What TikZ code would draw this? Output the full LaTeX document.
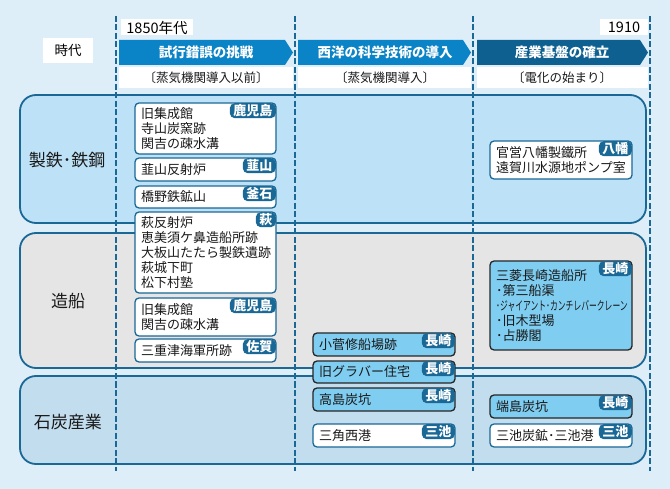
\documentclass[tikz,border=0pt]{standalone}
\usepackage{fontspec}
\setmainfont{Noto Sans CJK JP}
\usepackage{graphicx}

\definecolor{bgblue}{HTML}{DDEEF9}
\definecolor{lineblue}{HTML}{1A6896}
\definecolor{ironblue}{HTML}{BDE1F6}
\definecolor{shipgray}{HTML}{E5E5E5}
\definecolor{coalblue}{HTML}{C2DDEE}
\definecolor{hdrblue}{HTML}{0A84C6}
\definecolor{hdrdark}{HTML}{0D6090}
\definecolor{siteblue}{HTML}{7FCDF1}

\tikzset{
  band/.style={draw=lineblue, line width=1.8pt, rounded corners=16pt},
  eraline/.style={draw=lineblue, line width=2.8pt, dash pattern=on 6pt off 2.5pt},
  wbox/.style={draw=lineblue, fill=white, line width=1.3pt, rounded corners=4pt},
  cbox/.style={draw=black!85, fill=siteblue, line width=1.3pt, rounded corners=4pt},
  tag/.style={fill=lineblue, text=white, font=\bfseries\fontsize{13}{13}\selectfont, rounded corners=5pt, inner xsep=3.5pt, inner ysep=0pt, minimum height=15pt, anchor=north east},
  txt/.style={font=\fontsize{13}{15}\selectfont, align=left, anchor=west, inner sep=0pt, text=black!90},
  hdr/.style={text=white, font=\bfseries\fontsize{13.5}{14}\selectfont},
  captxt/.style={font=\fontsize{12.5}{14}\selectfont, text=black!90},
  lbl/.style={fill=white, font=\fontsize{13.5}{14}\selectfont, inner sep=0pt},
  yrtxt/.style={fill=white, font=\fontsize{14.5}{15}\selectfont, inner sep=0pt},
  rowtxt/.style={font=\fontsize{17}{18}\selectfont, text=black!90}
}

\begin{document}
\begin{tikzpicture}[x=1pt, y=-1pt]

\fill [bgblue] (0,0) rectangle (670,489);

%Row Bands

\draw [band, fill=ironblue] (20,95) rectangle (646,223);
\draw [band, fill=shipgray] (20,233) rectangle (646,368);
\draw [band, fill=coalblue] (20,376) rectangle (646,464);

\node [rowtxt] (iron) at (67,160) {製鉄･鉄鋼};
\node [rowtxt] (ship) at (68,301) {造船};
\node [rowtxt] (coal) at (68,422) {石炭産業};

%Era Lines

\draw [eraline] (116,16) -- (116,471);
\draw [eraline] (295,16) -- (295,471);
\draw [eraline] (473,16) -- (473,471);
\draw [eraline] (650,16) -- (650,471);

%Header Drawing

\node [lbl, minimum width=50pt, minimum height=25pt] (era) at (68,50.5) {時代};
\node [yrtxt, minimum width=72pt, minimum height=16pt] (y1850) at (157,27.5) {1850年代};
\node [yrtxt, minimum width=48pt, minimum height=16pt] (y1910) at (624,27.5) {1910};

\fill [hdrblue] (119,40) -- (285,40) -- (293,52.5) -- (285,65) -- (119,65) -- cycle;
\fill [hdrblue] (298,40) -- (463,40) -- (471,52.5) -- (463,65) -- (298,65) -- cycle;
\fill [hdrdark] (477,40) -- (640,40) -- (648,52.5) -- (640,65) -- (477,65) -- cycle;
\node [hdr] (hdr1) at (206,52.5) {試行錯誤の挑戦};
\node [hdr] (hdr2) at (385,52.5) {西洋の科学技術の導入};
\node [hdr] (hdr3) at (562,52.5) {産業基盤の確立};

\fill [white] (119,67) rectangle (293,88);
\fill [white] (298,67) rectangle (471,88);
\fill [white] (477,67) rectangle (648,88);
\node [captxt] (cap1) at (206,77.5) {〔蒸気機関導入以前〕};
\node [captxt] (cap2) at (385,77.5) {〔蒸気機関導入〕};
\node [captxt] (cap3) at (562,77.5) {〔電化の始まり〕};

%First Period Sites

\draw [wbox] (135,103) rectangle (276,154);
\node [txt] (shuseikan) at (141,128.5) {旧集成館\\寺山炭窯跡\\関吉の疎水溝};
\node [tag] (kagoshima) at (276,103) {鹿児島};

\draw [wbox] (135,158) rectangle (276,181);
\node [txt] (nirayama) at (141,169.5) {韮山反射炉};
\node [tag] (tnirayama) at (276,158) {韮山};

\draw [wbox] (135,186) rectangle (276,208);
\node [txt] (hashino) at (141,197) {橋野鉄鉱山};
\node [tag] (kamaishi) at (276,186) {釜石};

\draw [wbox] (135,212) rectangle (276,293);
\node [txt] (hagi) at (141,252.5) {萩反射炉\\恵美須ケ鼻造船所跡\\大板山たたら製鉄遺跡\\萩城下町\\松下村塾};
\node [tag] (thagi) at (276,212) {萩};

\draw [wbox] (135,298) rectangle (276,336);
\node [txt] (shuseikan2) at (141,317) {旧集成館\\関吉の疎水溝};
\node [tag] (kagoshima2) at (276,298) {鹿児島};

\draw [wbox] (135,339) rectangle (276,362);
\node [txt] (mietsu) at (141,350.5) {三重津海軍所跡};
\node [tag] (saga) at (276,339) {佐賀};

%Second Period Sites

\draw [cbox] (313,333) rectangle (455,356);
\node [txt] (kosuge) at (319,344.5) {小菅修船場跡};
\node [tag] (nagasaki1) at (455,333) {長崎};

\draw [cbox] (313,361) rectangle (455,383);
\node [txt] (glover) at (319,372) {旧グラバー住宅};
\node [tag] (nagasaki2) at (455,361) {長崎};

\draw [cbox] (313,388) rectangle (455,411);
\node [txt] (takashima) at (319,399.5) {高島炭坑};
\node [tag] (nagasaki3) at (455,388) {長崎};

\draw [wbox] (313,424) rectangle (455,447);
\node [txt] (misumi) at (319,435.5) {三角西港};
\node [tag] (miike1) at (455,424) {三池};

%Third Period Sites

\draw [wbox] (490,141) rectangle (632,179);
\node [txt] (yawata) at (496,160) {官営八幡製鐵所\\遠賀川水源地ポンプ室};
\node [tag] (tyawata) at (632,141) {八幡};

\draw [cbox] (490,261) rectangle (632,350);
\node [txt] (mitsubishi) at (496,305.5) {三菱長崎造船所\\･第三船渠\\\scalebox{0.6}[0.95]{･ジャイアント･カンチレバークレーン}\\･旧木型場\\･占勝閣};
\node [tag] (nagasaki4) at (632,261) {長崎};

\draw [cbox] (490,395) rectangle (632,418);
\node [txt] (hashima) at (496,406.5) {端島炭坑};
\node [tag] (nagasaki5) at (632,395) {長崎};

\draw [wbox] (490,424) rectangle (632,447);
\node [txt] (miike) at (496,435.5) {三池炭鉱･三池港};
\node [tag] (miike2) at (632,424) {三池};

\end{tikzpicture}
\end{document}
